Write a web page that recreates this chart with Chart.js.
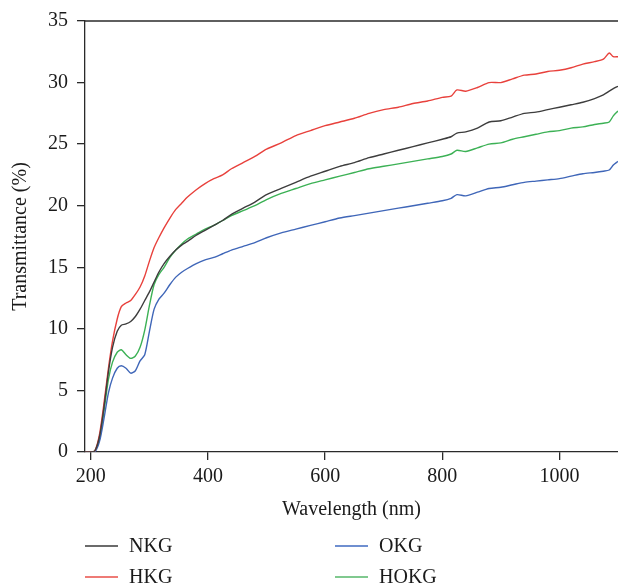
<!DOCTYPE html>
<html>
<head>
<meta charset="utf-8">
<script src="https://cdn.jsdelivr.net/npm/chart.js@4"></script>
<style>
  body { margin: 0; background: #fff; }
  #wrap { width: 618px; height: 585px; }
</style>
</head>
<body>
<div id="wrap"><canvas id="specChart" width="618" height="585"></canvas></div>
<script>
// wavelengths (nm)
const wavelengths = [190, 200, 207, 215, 222, 230, 237, 245, 252, 260, 268, 276, 284, 292, 300, 308, 316, 325, 335, 345, 355, 365, 380, 395, 410, 425, 440, 460, 480, 500, 525, 550, 575, 600, 625, 650, 675, 700, 725, 750, 775, 800, 815, 825, 840, 860, 880, 900, 920, 940, 960, 980, 1000, 1020, 1040, 1060, 1075, 1085, 1092, 1100];

// transmittance (%) per sample
const nkg = [0, 0, 0.1, 1.3, 3.5, 6.5, 8.5, 9.8, 10.3, 10.4, 10.6, 11.0, 11.6, 12.3, 13.0, 13.8, 14.6, 15.3, 15.9, 16.4, 16.8, 17.1, 17.6, 18.0, 18.4, 18.8, 19.3, 19.8, 20.3, 20.9, 21.4, 21.9, 22.4, 22.8, 23.2, 23.5, 23.9, 24.2, 24.5, 24.8, 25.1, 25.4, 25.6, 25.9, 26.0, 26.3, 26.8, 26.9, 27.2, 27.5, 27.6, 27.8, 28.0, 28.2, 28.4, 28.7, 29.0, 29.3, 29.5, 29.7];
const hkg = [0, 0, 0.1, 1.5, 3.8, 6.8, 9.0, 10.8, 11.8, 12.1, 12.3, 12.8, 13.4, 14.3, 15.5, 16.6, 17.4, 18.2, 19.0, 19.7, 20.2, 20.7, 21.3, 21.8, 22.2, 22.5, 23.0, 23.5, 24.0, 24.6, 25.1, 25.7, 26.1, 26.5, 26.8, 27.1, 27.5, 27.8, 28.0, 28.3, 28.5, 28.8, 28.9, 29.4, 29.3, 29.6, 30.0, 30.0, 30.3, 30.6, 30.7, 30.9, 31.0, 31.2, 31.5, 31.7, 31.9, 32.4, 32.1, 32.1];
const okg = [0, 0, 0, 0.9, 2.6, 4.8, 6.0, 6.8, 7.0, 6.8, 6.4, 6.6, 7.4, 7.9, 9.8, 11.6, 12.4, 12.9, 13.6, 14.2, 14.6, 14.9, 15.3, 15.6, 15.8, 16.1, 16.4, 16.7, 17.0, 17.4, 17.8, 18.1, 18.4, 18.7, 19.0, 19.2, 19.4, 19.6, 19.8, 20.0, 20.2, 20.4, 20.6, 20.9, 20.8, 21.1, 21.4, 21.5, 21.7, 21.9, 22.0, 22.1, 22.2, 22.4, 22.6, 22.7, 22.8, 22.9, 23.3, 23.6];
const hokg = [0, 0, 0.1, 1.1, 3.2, 5.9, 7.3, 8.1, 8.3, 7.9, 7.6, 7.8, 8.5, 9.9, 11.9, 13.6, 14.4, 15.0, 15.8, 16.4, 16.9, 17.3, 17.7, 18.1, 18.4, 18.8, 19.2, 19.6, 20.0, 20.5, 21.0, 21.4, 21.8, 22.1, 22.4, 22.7, 23.0, 23.2, 23.4, 23.6, 23.8, 24.0, 24.2, 24.5, 24.4, 24.7, 25.0, 25.1, 25.4, 25.6, 25.8, 26.0, 26.1, 26.3, 26.4, 26.6, 26.7, 26.8, 27.3, 27.7];

const seriesNames = ['NKG', 'HKG', 'OKG', 'HOKG'];
const seriesValues = [nkg, hkg, okg, hokg];
const seriesColors = ['#3d3d3d', '#e8413c', '#3f66b8', '#3cb155'];
const legendColors = ['#6b6b6b', '#ee7b76', '#6f8fd0', '#80c98f'];

const xTicks = [200, 400, 600, 800, 1000];
const yTicks = [0, 5, 10, 15, 20, 25, 30, 35];

const serif = '"Liberation Serif", "DejaVu Serif", serif';
const axisColor = '#2a2a2a';

// top frame line + two-column legend under the plot
const framePlugin = {
  id: 'framePlugin',
  afterDraw(chart) {
    const ctx = chart.ctx;
    const a = chart.chartArea;
    ctx.save();
    ctx.strokeStyle = axisColor;
    ctx.lineWidth = 1.3;
    ctx.beginPath();
    ctx.moveTo(a.left, a.top);
    ctx.lineTo(a.right, a.top);
    ctx.stroke();

    const colX = [85, 335];
    const rowY = [546, 577];
    ctx.font = '20px ' + serif;
    ctx.textBaseline = 'middle';
    ctx.fillStyle = '#1a1a1a';
    chart.data.datasets.forEach((ds, i) => {
      const x = colX[Math.floor(i / 2)];
      const y = rowY[i % 2];
      ctx.strokeStyle = legendColors[i];
      ctx.lineWidth = 1.8;
      ctx.beginPath();
      ctx.moveTo(x, y);
      ctx.lineTo(x + 33, y);
      ctx.stroke();
      ctx.fillText(ds.label, x + 44, y + 1);
    });
    ctx.restore();
  }
};

const ctx = document.getElementById('specChart').getContext('2d');
const specChart = new Chart(ctx, {
  type: 'line',
  data: {
    datasets: seriesNames.map((name, i) => ({
      label: name,
      data: wavelengths.map((w, j) => ({ x: w, y: seriesValues[i][j] })),
      borderColor: seriesColors[i],
      borderWidth: 1.4,
      pointRadius: 0,
      tension: 0.25,
      fill: false
    }))
  },
  options: {
    responsive: false,
    animation: false,
    layout: { padding: { top: 21, right: 0, bottom: 63, left: 0 } },
    plugins: {
      legend: { display: false },
      tooltip: { enabled: false }
    },
    scales: {
      x: {
        type: 'linear',
        min: 190,
        max: 1100,
        afterBuildTicks: scale => { scale.ticks = xTicks.map(v => ({ value: v })); },
        afterFit: scale => { scale.height = 70; },
        grid: { drawOnChartArea: false, drawTicks: true, tickLength: 8, color: axisColor, lineWidth: 1.3 },
        border: { display: true, color: axisColor, width: 1.3 },
        ticks: { color: '#1a1a1a', padding: 5, maxRotation: 0, callback: v => String(v), font: { family: serif, size: 20 } },
        title: { display: true, text: 'Wavelength (nm)', color: '#1a1a1a', padding: { top: 0, bottom: 0 }, font: { family: serif, size: 20 } }
      },
      y: {
        min: 0,
        max: 35,
        afterBuildTicks: scale => { scale.ticks = yTicks.map(v => ({ value: v })); },
        afterFit: scale => { scale.width = 85; },
        grid: { drawOnChartArea: false, drawTicks: true, tickLength: 8, color: axisColor, lineWidth: 1.3 },
        border: { display: true, color: axisColor, width: 1.3 },
        ticks: { color: '#1a1a1a', padding: 9, callback: v => String(v), font: { family: serif, size: 20 } },
        title: { display: true, text: 'Transmittance (%)', color: '#1a1a1a', padding: { top: 9, bottom: 0 }, font: { family: serif, size: 20 } }
      }
    }
  },
  plugins: [framePlugin]
});
</script>
</body>
</html>
